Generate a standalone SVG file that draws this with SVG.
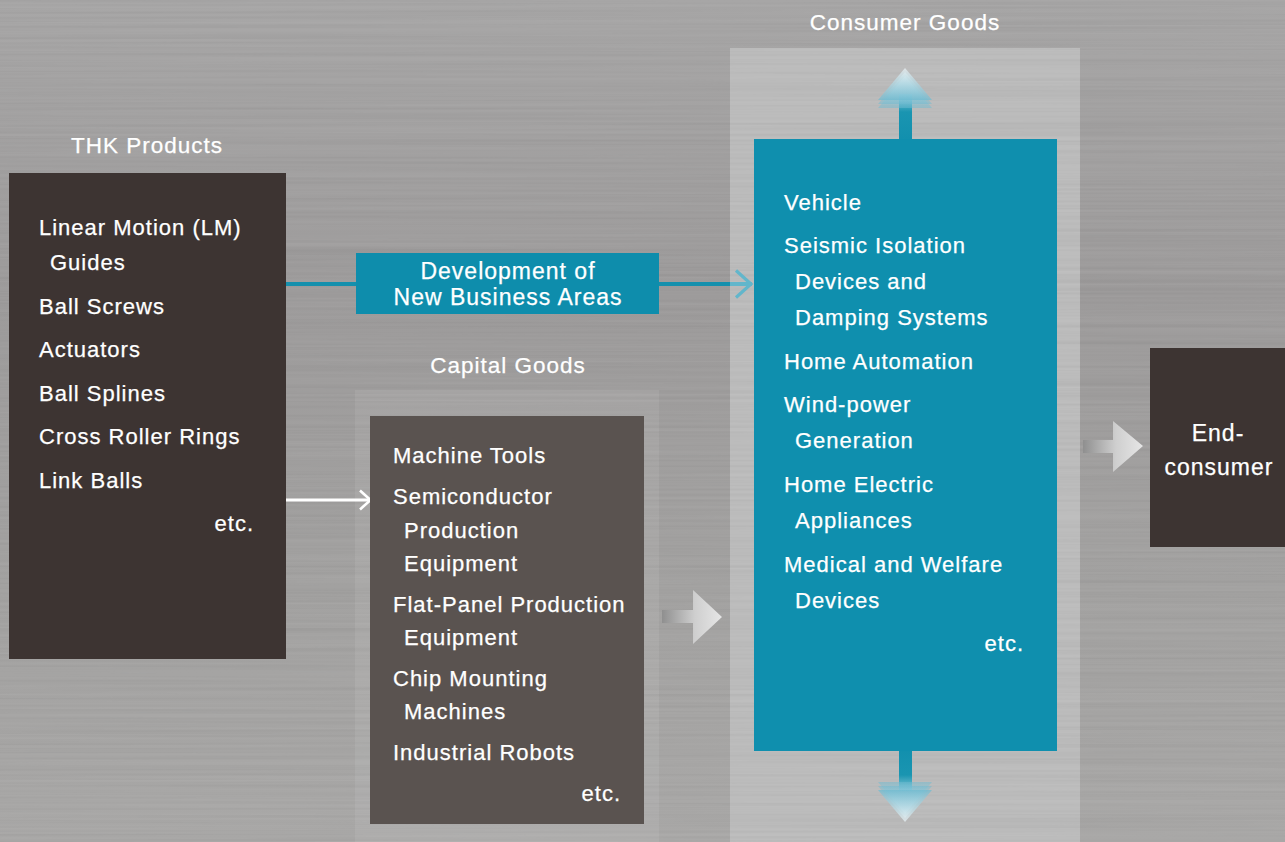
<svg xmlns="http://www.w3.org/2000/svg" width="1285" height="842" viewBox="0 0 1285 842">
  <defs>
    <style>
      .t { font-family: "Liberation Sans", Arial, Helvetica, sans-serif; font-size: 22px; fill: #ffffff; letter-spacing: 1px; stroke: #ffffff; stroke-width: 0.25px; }
      .title { font-size: 22.5px; }
      .mid { text-anchor: middle; }
      .end { text-anchor: end; }
      .dark { fill: #3d3432; }
      .stone { fill: #5a5350; }
      .teal { fill: #0f8fae; }
    </style>
    <linearGradient id="bg" x1="0" y1="0" x2="0" y2="1">
      <stop offset="0" stop-color="#a7a6a6"/>
      <stop offset="0.35" stop-color="#9d9b9b"/>
      <stop offset="0.7" stop-color="#a3a2a1"/>
      <stop offset="1" stop-color="#a9a8a7"/>
    </linearGradient>
    <linearGradient id="greyArrow" x1="0" y1="0" x2="1" y2="0">
      <stop offset="0" stop-color="#8f8f8f"/>
      <stop offset="0.55" stop-color="#cfcfcf"/>
      <stop offset="1" stop-color="#e6e6e6"/>
    </linearGradient>
    <linearGradient id="shaftUp" x1="0" y1="1" x2="0" y2="0">
      <stop offset="0" stop-color="#1290ae"/>
      <stop offset="0.6" stop-color="#1a95b1"/>
      <stop offset="1" stop-color="#8cc9d9"/>
    </linearGradient>
    <linearGradient id="headUp" x1="0" y1="1" x2="0" y2="0">
      <stop offset="0" stop-color="#6dbad0"/>
      <stop offset="1" stop-color="#eef6f9"/>
    </linearGradient>
    <linearGradient id="shaftDown" x1="0" y1="0" x2="0" y2="1">
      <stop offset="0" stop-color="#1290ae"/>
      <stop offset="0.6" stop-color="#1a95b1"/>
      <stop offset="1" stop-color="#8cc9d9"/>
    </linearGradient>
    <linearGradient id="headDown" x1="0" y1="0" x2="0" y2="1">
      <stop offset="0" stop-color="#6dbad0"/>
      <stop offset="1" stop-color="#eef6f9"/>
    </linearGradient>
    <!-- faint horizontal brushed-metal streaks -->
    <filter id="brushLight" x="0" y="0" width="100%" height="100%">
      <feTurbulence type="fractalNoise" baseFrequency="0.0012 0.3" numOctaves="2" seed="3"/>
      <feColorMatrix values="0 0 0 0 1  0 0 0 0 1  0 0 0 0 1  0.09 0 0 0 -0.035"/>
    </filter>
    <filter id="brushDark" x="0" y="0" width="100%" height="100%">
      <feTurbulence type="fractalNoise" baseFrequency="0.0015 0.35" numOctaves="2" seed="11"/>
      <feColorMatrix values="0 0 0 0 0  0 0 0 0 0  0 0 0 0 0  0.08 0 0 0 -0.03"/>
    </filter>
    <marker id="chevBlue" viewBox="0 0 20 30" refX="18" refY="15" markerWidth="20" markerHeight="30" markerUnits="userSpaceOnUse" orient="auto">
      <path d="M2,1.5 L17,15 L2,28.5" fill="none" stroke="#62b6cb" stroke-width="3.2"/>
    </marker>
    <marker id="chevWhite" viewBox="0 0 14 22" refX="12.5" refY="11" markerWidth="14" markerHeight="22" markerUnits="userSpaceOnUse" orient="auto">
      <path d="M1.5,1.5 L12,11 L1.5,20.5" fill="none" stroke="#ffffff" stroke-width="2.6"/>
    </marker>
  </defs>

  <!-- background -->
  <rect width="1285" height="842" fill="url(#bg)"/>
  <rect id="capital-panel" x="355" y="390" width="304" height="452" fill="#ffffff" fill-opacity="0.08"/>
  <rect id="consumer-panel" x="730" y="48" width="350" height="794" fill="#bcbcbc"/>
  <rect width="1285" height="842" filter="url(#brushLight)"/>
  <rect width="1285" height="842" filter="url(#brushDark)"/>

  <!-- section titles -->
  <text class="t title mid" x="147" y="153">THK Products</text>
  <text class="t title mid" x="508" y="373">Capital Goods</text>
  <text class="t title mid" x="905" y="30">Consumer Goods</text>

  <!-- connectors -->
  <g id="connectors">
    <line x1="286" y1="284" x2="356" y2="284" stroke="#1590ad" stroke-width="4"/>
    <line x1="659" y1="284" x2="731" y2="284" stroke="#1590ad" stroke-width="4"/>
    <line x1="730" y1="284" x2="752" y2="284" stroke="#62b6cb" stroke-width="4" marker-end="url(#chevBlue)"/>
    <line x1="286" y1="500" x2="371" y2="500" stroke="#ffffff" stroke-width="3" marker-end="url(#chevWhite)"/>
    <!-- capital goods to consumer goods -->
    <path d="M662,610 L693,610 L693,590 L722,617 L693,644 L693,623 L662,623 Z" fill="url(#greyArrow)"/>
    <!-- consumer goods to end-consumer -->
    <path d="M1083,440 L1113,440 L1113,421 L1143,446 L1113,472 L1113,453 L1083,453 Z" fill="url(#greyArrow)"/>
    <!-- upward expansion -->
    <rect x="899" y="94" width="13" height="45" fill="url(#shaftUp)"/>
    <path d="M905,76 L932,108 L878,108 Z" fill="url(#headUp)" fill-opacity="0.5"/>
    <path d="M905,72 L932,104 L878,104 Z" fill="url(#headUp)" fill-opacity="0.5"/>
    <path d="M905,68 L932,100 L878,100 Z" fill="url(#headUp)" fill-opacity="0.7"/>
    <!-- downward expansion -->
    <rect x="899" y="751" width="13" height="40" fill="url(#shaftDown)"/>
    <path d="M905,814 L932,782 L878,782 Z" fill="url(#headDown)" fill-opacity="0.5"/>
    <path d="M905,818 L932,786 L878,786 Z" fill="url(#headDown)" fill-opacity="0.5"/>
    <path d="M905,822 L932,790 L878,790 Z" fill="url(#headDown)" fill-opacity="0.7"/>
  </g>

  <!-- THK products -->
  <g id="thk-products">
    <rect class="dark" x="9" y="173" width="277" height="486"/>
    <text class="t" x="39" y="235">Linear Motion (LM)</text>
    <text class="t" x="50" y="270">Guides</text>
    <text class="t" x="39" y="314">Ball Screws</text>
    <text class="t" x="39" y="357">Actuators</text>
    <text class="t" x="39" y="401">Ball Splines</text>
    <text class="t" x="39" y="444">Cross Roller Rings</text>
    <text class="t" x="39" y="488">Link Balls</text>
    <text class="t end" x="254" y="531">etc.</text>
  </g>

  <!-- new business areas -->
  <g id="new-business">
    <rect x="356" y="253" width="303" height="61" fill="#0e8dac"/>
    <text class="t mid" x="508" y="279" style="font-size:23px">Development of</text>
    <text class="t mid" x="508" y="305" style="font-size:23px">New Business Areas</text>
  </g>

  <!-- capital goods -->
  <g id="capital-goods">
    <rect class="stone" x="370" y="416" width="274" height="408"/>
    <text class="t" x="393" y="463">Machine Tools</text>
    <text class="t" x="393" y="504">Semiconductor</text>
    <text class="t" x="404" y="538">Production</text>
    <text class="t" x="404" y="571">Equipment</text>
    <text class="t" x="393" y="612">Flat-Panel Production</text>
    <text class="t" x="404" y="645">Equipment</text>
    <text class="t" x="393" y="686">Chip Mounting</text>
    <text class="t" x="404" y="719">Machines</text>
    <text class="t" x="393" y="760">Industrial Robots</text>
    <text class="t end" x="621" y="801">etc.</text>
  </g>

  <!-- consumer goods -->
  <g id="consumer-goods">
    <rect class="teal" x="754" y="139" width="303" height="612"/>
    <text class="t" x="784" y="210">Vehicle</text>
    <text class="t" x="784" y="253">Seismic Isolation</text>
    <text class="t" x="795" y="289">Devices and</text>
    <text class="t" x="795" y="325">Damping Systems</text>
    <text class="t" x="784" y="369">Home Automation</text>
    <text class="t" x="784" y="412">Wind-power</text>
    <text class="t" x="795" y="448">Generation</text>
    <text class="t" x="784" y="492">Home Electric</text>
    <text class="t" x="795" y="528">Appliances</text>
    <text class="t" x="784" y="572">Medical and Welfare</text>
    <text class="t" x="795" y="608">Devices</text>
    <text class="t end" x="1024" y="651">etc.</text>
  </g>

  <!-- end consumer -->
  <g id="end-consumer">
    <rect class="dark" x="1150" y="348" width="135" height="199"/>
    <text class="t mid" x="1218" y="441" style="font-size:23px">End-</text>
    <text class="t mid" x="1219" y="475" style="font-size:23px">consumer</text>
  </g>
</svg>
